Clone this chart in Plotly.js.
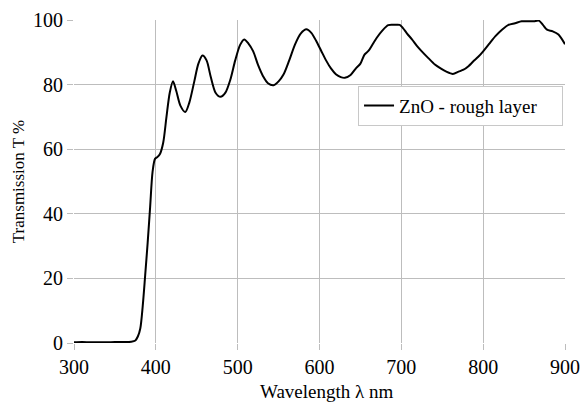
<!DOCTYPE html>
<html>
<head>
<meta charset="utf-8">
<script src="https://cdn.plot.ly/plotly-3.0.1.min.js"></script>
<style>html,body{margin:0;padding:0;background:#fff;}#chart{width:581px;height:405px;}</style>
</head>
<body>
<div id="chart"></div>
<script>
var wavelength = [300,310,320,330,340,350,360,370,375,378,381,384,387,390,393,396,399,402,405,409,413,417,421,425,430,436,441,447,452,457,462,467,473,479,485,491,497,503,508,513,519,525,531,537,544,550,556,563,570,577,584,590,596,602,608,614,620,626,631,638,645,650,655,660,665,670,677,684,691,698,702,707,713,719,725,733,741,748,755,763,770,776,782,788,794,800,807,815,823,831,839,847,855,862,868,873,878,885,892,900];
var transmission = [0.2,0.3,0.2,0.2,0.2,0.3,0.3,0.4,0.8,2,4.5,11.5,21,31,42,53,57,57.6,58.5,62,70,77.5,81,78,73.5,71.5,74.5,81,86.5,89,87.5,82.5,77.5,76.2,77.5,81.5,87.5,92.3,94,92.8,90.3,86,82.6,80.4,79.8,81,83.1,87.5,92.4,95.8,97.1,96,93.5,90.5,87.5,85,83.2,82.3,82.1,83,85.2,86.5,89.3,90.5,92.5,94.5,96.8,98.4,98.5,98.5,97.5,95.8,94,92,90.3,88.2,86.2,85,84,83.3,84,84.6,85.7,87.2,88.6,90.3,92.5,95,97,98.5,99,99.6,99.6,99.6,99.8,98.5,97,96.5,95.5,92.5];
var xTicks = [300,400,500,600,700,800,900];
var yTicks = [0,20,40,60,80,100];
var seriesName = 'ZnO - rough layer';
var xTitle = 'Wavelength λ nm';
var yTitle = 'Transmission T %';

var font = 'Liberation Serif';
var trace = {
  x: wavelength, y: transmission, type: 'scatter', mode: 'lines',
  name: seriesName,
  line: {color: '#000000', width: 2, shape: 'spline', smoothing: 0.8}
};
var layout = {
  width: 581, height: 405,
  margin: {l: 74, r: 16, t: 20, b: 62},
  paper_bgcolor: '#ffffff', plot_bgcolor: '#ffffff',
  font: {family: font, size: 19, color: '#000000'},
  showlegend: true,
  legend: {x: 0.996, y: 0.797, xanchor: 'right', yanchor: 'top',
    orientation: 'h', entrywidth: 158, entrywidthmode: 'pixels',
    bgcolor: '#ffffff', bordercolor: '#c8c8c8', borderwidth: 1,
    font: {family: font, size: 19, color: '#000'}, itemwidth: 30},
  annotations: [{
    text: xTitle, xref: 'paper', yref: 'paper', x: 0.515, y: -0.113,
    xanchor: 'center', yanchor: 'top', showarrow: false,
    font: {family: font, size: 19, color: '#000'}
  }],
  xaxis: {
    range: [300, 900], tickvals: xTicks, ticktext: xTicks.map(String),
    showgrid: true, gridcolor: '#bdbdbd', gridwidth: 1,
    ticks: 'outside', ticklen: 6, tickcolor: '#bdbdbd',
    zeroline: false, showline: false,
    tickfont: {family: font, size: 20},
    automargin: false
  },
  yaxis: {
    range: [0, 100], tickvals: yTicks, ticktext: yTicks.map(String),
    showgrid: true, gridcolor: '#bdbdbd', gridwidth: 1,
    ticks: 'outside', ticklen: 6, tickcolor: '#bdbdbd',
    zeroline: false, showline: false,
    tickfont: {family: font, size: 20},
    title: {text: yTitle, font: {family: font, size: 17}, standoff: 4},
    automargin: false
  }
};
Plotly.newPlot('chart', [trace], layout, {displayModeBar: false, staticPlot: true});
</script>
</body>
</html>
